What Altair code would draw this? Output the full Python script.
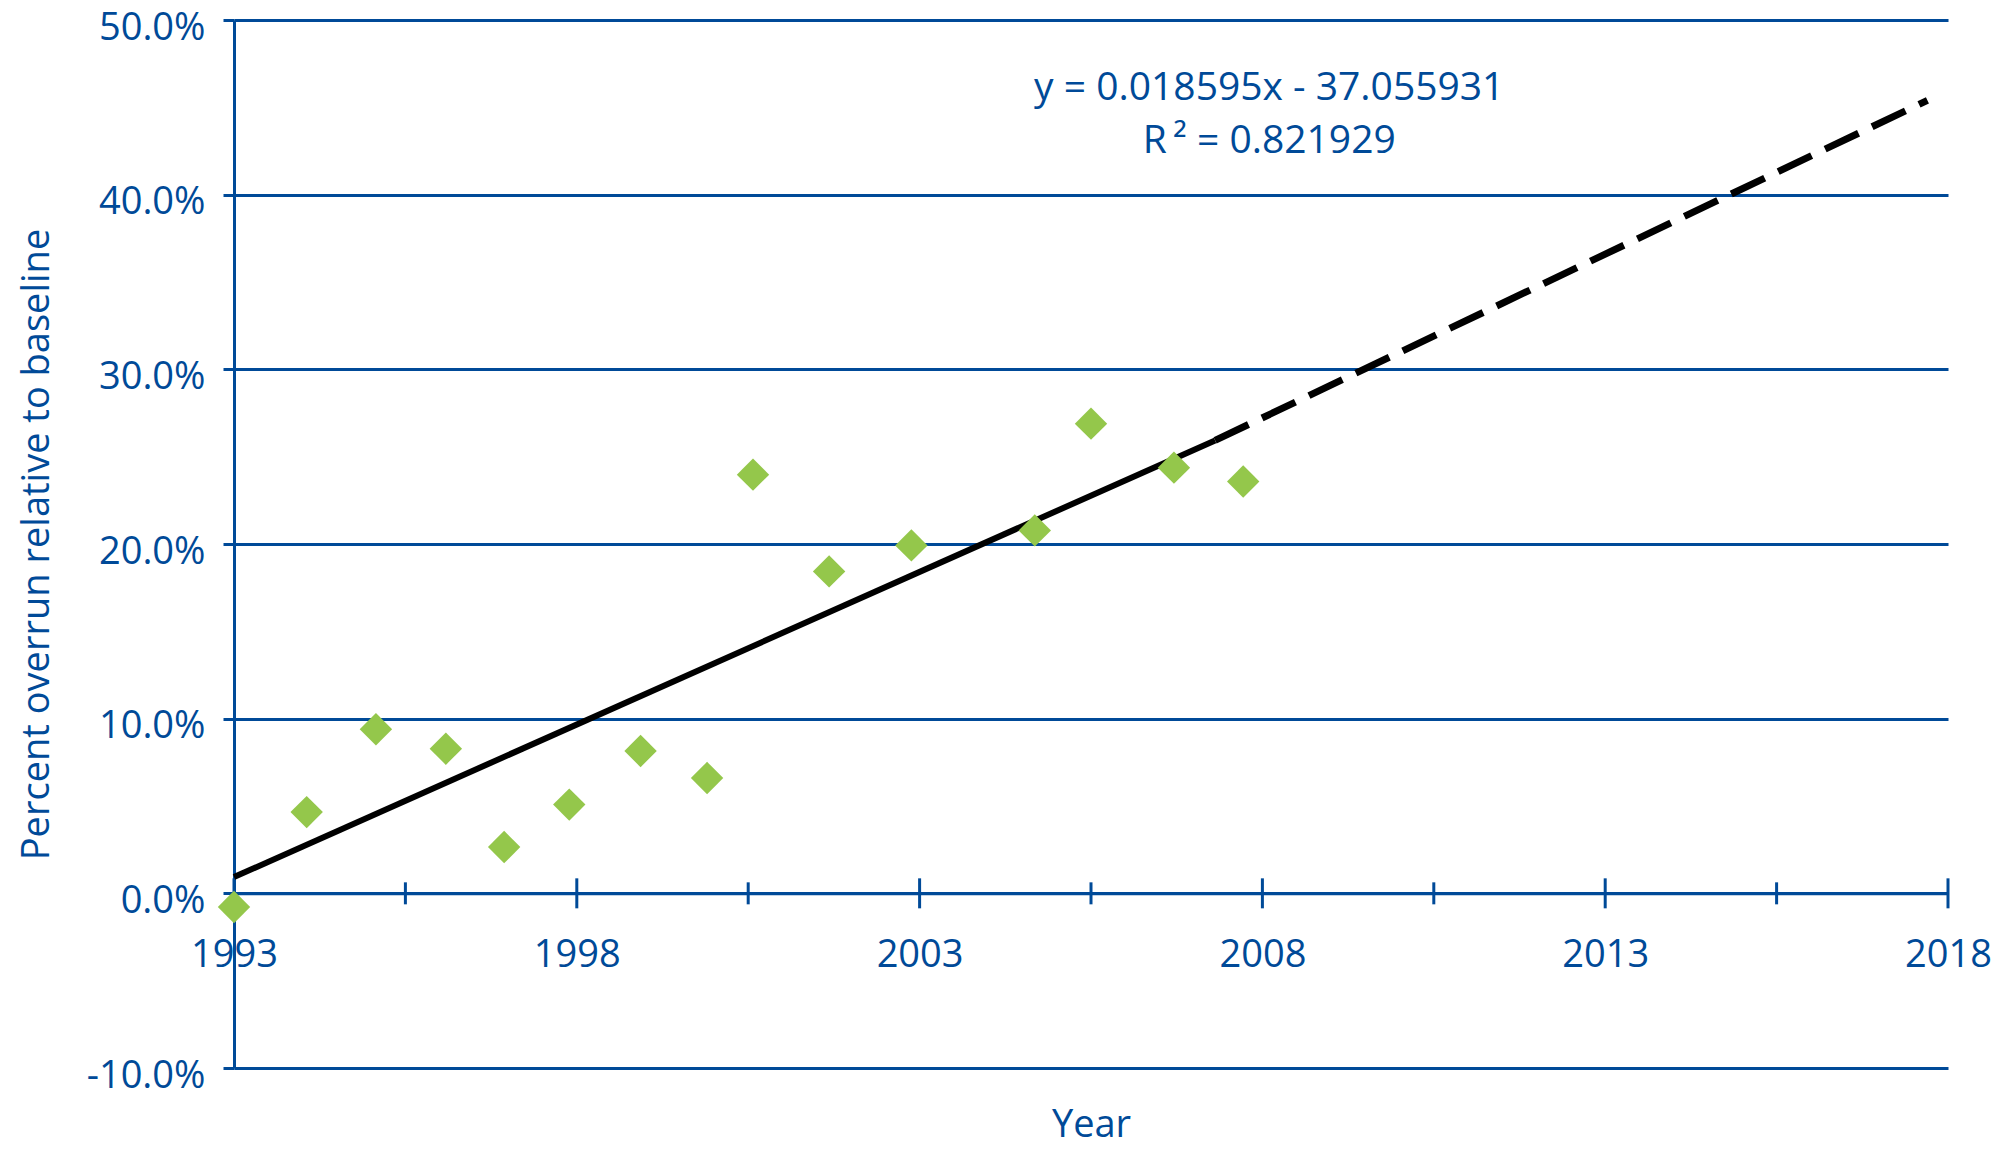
import altair as alt
import pandas as pd

# ---- data ----
obs_year = [1993.0, 1994.06, 1995.07, 1996.09, 1996.94, 1997.89, 1998.93, 1999.90,
            2000.57, 2001.68, 2002.88, 2004.68, 2005.50, 2006.71, 2007.72]
obs_overrun = [-0.0078, 0.0465, 0.0939, 0.0828, 0.0265, 0.0508, 0.0815, 0.0660,
               0.2397, 0.1843, 0.1992, 0.2078, 0.2689, 0.2437, 0.2358]

fit_year = [1993.0, 2007.31]
fit_value = [0.0093, 0.2593]
proj_year = [2007.31, 2017.70]
proj_value = [0.2593, 0.4540]

tick_years = [1993, 1995.5, 1998, 2000.5, 2003, 2005.5, 2008, 2010.5, 2013, 2015.5, 2018]
tick_len = [30, 22, 30, 22, 30, 22, 30, 22, 30, 22, 30]
label_years = [1993, 1998, 2003, 2008, 2013, 2018]
y_ticks = [-0.1, 0.0, 0.1, 0.2, 0.3, 0.4, 0.5]

eq_text = ["y = 0.018595x - 37.055931", "R\u2009\u00b2 = 0.821929"]
eq_year = [2008.1, 2008.1]
eq_value = [0.461, 0.431]

# ---- styling ----
BLUE = "#004A98"
GREEN = "#94C74B"
FONT = "Open Sans"
W, H = 1714, 1048
YMIN, YMAX = -0.1, 0.5

xscale = alt.Scale(domain=[1993, 2018], nice=False, zero=False)
yscale = alt.Scale(domain=[YMIN, YMAX], nice=False, zero=False)

x_axis = alt.Axis(
    values=label_years, format="d", offset=-H * (0 - YMIN) / (YMAX - YMIN),
    ticks=False, tickSize=0, grid=False, domain=True, domainColor=BLUE, domainWidth=3,
    labelFont=FONT, labelFontSize=38, labelColor=BLUE, labelPadding=62,
    labelBaseline="middle", labelFlush=False, labelOverlap=False,
    title="Year", titleFont=FONT, titleFontSize=38, titleFontWeight="normal",
    titleColor=BLUE, titlePadding=132,
)
y_axis = alt.Axis(
    values=y_ticks,
    labelExpr="replace(format(datum.value, '.1%'), '\u2212', '-')",
    grid=True, gridColor=BLUE, gridWidth=3,
    domain=True, domainColor=BLUE, domainWidth=3,
    ticks=True, tickColor=BLUE, tickWidth=3, tickSize=11,
    labelFont=FONT, labelFontSize=38, labelColor=BLUE, labelPadding=18,
    labelOffset=8, labelOverlap=False, labelFlush=False,
    title="Percent  overrun relative to baseline", titleFont=FONT, titleFontSize=38,
    titleFontWeight="normal", titleColor=BLUE, titlePadding=30,
)

x_enc = alt.X("year:Q", scale=xscale, axis=x_axis)
y_enc = alt.Y("value:Q", scale=yscale, axis=y_axis)

obs_df = pd.DataFrame({"year": obs_year, "value": obs_overrun})
fit_df = pd.DataFrame({"year": fit_year, "value": fit_value})
proj_df = pd.DataFrame({"year": proj_year, "value": proj_value})
tick_df = pd.DataFrame({"year": tick_years, "value": [0.0] * len(tick_years), "len": tick_len})
eq_df = pd.DataFrame({"year": eq_year, "value": eq_value, "label": eq_text})

ticks = alt.Chart(tick_df).mark_tick(orient="vertical", thickness=3, color=BLUE, opacity=1).encode(
    x=x_enc, y=y_enc, size=alt.Size("len:Q", scale=None, legend=None)
)
fit = alt.Chart(fit_df).mark_line(color="black", strokeWidth=6, strokeCap="butt").encode(
    x=x_enc, y=y_enc
)
proj = alt.Chart(proj_df).mark_line(color="black", strokeWidth=7, strokeCap="butt",
                                   strokeDash=[37, 15]).encode(x=x_enc, y=y_enc)
points = alt.Chart(obs_df).mark_point(shape="diamond", filled=True, size=1050, color=GREEN,
                                      opacity=1, strokeWidth=0).encode(x=x_enc, y=y_enc)
eq = alt.Chart(eq_df).mark_text(font=FONT, fontSize=39, color=BLUE, align="center",
                                baseline="middle").encode(x=x_enc, y=y_enc, text="label:N")

chart = alt.layer(ticks, fit, proj, points, eq).properties(
    width=W, height=H,
    padding={"left": 226, "top": 12, "right": 45, "bottom": 81},
    autosize=alt.AutoSizeParams(type="none"),
    background="white",
).configure_view(stroke=None)

chart.save("out.html", embed_options={"renderer": "svg", "actions": False})
